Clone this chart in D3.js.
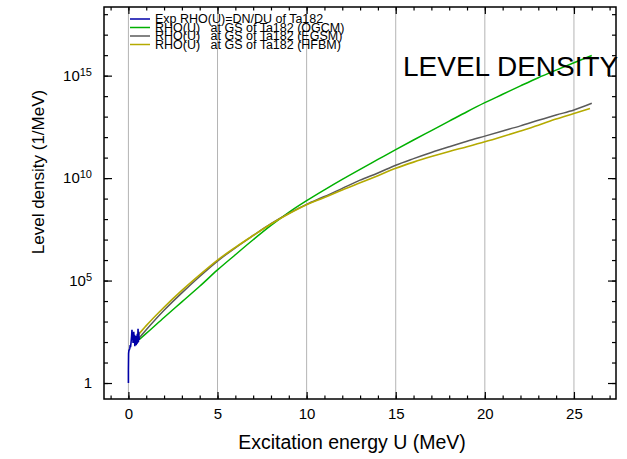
<!DOCTYPE html>
<html>
<head>
<meta charset="utf-8">
<script src="https://cdn.jsdelivr.net/npm/d3@7"></script>
<style>
  body { margin: 0; background: #fff; }
  svg text { font-family: "Liberation Sans", Arial, Helvetica, sans-serif; fill: #000; }
</style>
</head>
<body>
<div id="chart"></div>
<script>
// energies (MeV) for the model curves
var energies = [0.6, 1, 2, 3, 4, 5, 6, 7, 8, 9, 10, 11, 12, 13, 14, 15, 16, 17, 18, 19, 20, 21, 22, 23, 24, 25, 26];
// log10 of level density
var ogcmLog = [2.12, 2.42, 3.2, 3.96, 4.72, 5.52, 6.26, 6.99, 7.69, 8.33, 8.9, 9.43, 9.94, 10.43, 10.91, 11.39, 11.86, 12.32, 12.78, 13.24, 13.68, 14.09, 14.5, 14.9, 15.27, 15.63, 15.98];
var egsmLog = [2.2, 2.6, 3.55, 4.4, 5.2, 5.95, 6.6, 7.2, 7.78, 8.28, 8.72, 9.1, 9.5, 9.9, 10.25, 10.63, 10.95, 11.25, 11.53, 11.8, 12.05, 12.3, 12.55, 12.82, 13.08, 13.32, 13.65];
var hfbmEnergies = [0.5, 1, 2, 3, 4, 5, 6, 7, 8, 9, 10, 11, 12, 13, 14, 15, 16, 17, 18, 19, 20, 21, 22, 23, 24, 25, 25.9];
var hfbmLog = [2.3, 2.8, 3.7, 4.52, 5.28, 6.0, 6.62, 7.2, 7.76, 8.26, 8.7, 9.05, 9.42, 9.77, 10.12, 10.48, 10.78, 11.05, 11.3, 11.53, 11.77, 12.03, 12.3, 12.58, 12.88, 13.15, 13.4];
// experimental rho = dN/dU (noisy, low energy)
var expEnergies = [0.0, 0.0, 0.01, 0.03, 0.05, 0.08, 0.1, 0.12, 0.15, 0.18, 0.2, 0.22, 0.24, 0.26, 0.28, 0.3, 0.32, 0.34, 0.36, 0.38, 0.4, 0.42, 0.44, 0.46, 0.48, 0.5, 0.52, 0.54, 0.56, 0.58, 0.6, 0.62];
var expLog = [0.0, 0.6, 1.45, 1.6, 1.62, 1.7, 1.85, 1.75, 2.0, 2.3, 2.6, 2.1, 2.4, 1.95, 2.2, 2.5, 2.0, 2.35, 1.8, 2.2, 1.9, 2.3, 1.85, 2.25, 1.9, 2.4, 1.95, 2.65, 2.0, 2.5, 2.1, 2.2];

var xMajor = [0, 5, 10, 15, 20, 25];
var xMinor = d3.range(-1, 28);
var yMajorExp = [0, 5, 10, 15];
var yMinorExp = d3.range(0, 19);

var legendLabels = ["Exp RHO(U)=DN/DU of Ta182",
  "RHO(U)   at GS of Ta182 (OGCM)",
  "RHO(U)   at GS of Ta182 (EGSM)",
  "RHO(U)   at GS of Ta182 (HFBM)"];
var colors = ["#0000a8", "#00b000", "#5a5a5a", "#b4aa00"];

var W = 627, H = 459;
var L = 104, R = 616, T = 7, B = 399;

var svg = d3.select('#chart').append('svg')
  .attr('width', W).attr('height', H);

var x = d3.scaleLinear().domain([-1.37, 27.36]).range([L, R]);
var y = d3.scaleLog().domain([Math.pow(10, -0.78), Math.pow(10, 18.35)]).range([B, T]);

// vertical grid lines
svg.selectAll('.grid').data(xMajor).enter().append('line')
  .attr('x1', d => x(d)).attr('x2', d => x(d))
  .attr('y1', T).attr('y2', B)
  .style('stroke', '#b4b4b4').style('stroke-width', 1);

// curves
var line = d3.line()
  .x(d => x(d[0]))
  .y(d => y(Math.pow(10, d[1])))
  .curve(d3.curveMonotoneX);
var lineRaw = d3.line()
  .x(d => x(d[0]))
  .y(d => y(Math.pow(10, d[1])));

var series = [
  {data: d3.zip(energies, ogcmLog), color: colors[1], w: 1.5},
  {data: d3.zip(energies, egsmLog), color: colors[2], w: 1.5},
  {data: d3.zip(hfbmEnergies, hfbmLog), color: colors[3], w: 1.6}
];
series.forEach(function(s){
  svg.append('path')
    .datum(s.data)
    .attr('d', line)
    .attr('fill', 'none')
    .attr('stroke', s.color)
    .attr('stroke-width', s.w);
});
svg.append('path')
  .datum(d3.zip(expEnergies, expLog))
  .attr('d', lineRaw)
  .attr('fill', 'none')
  .attr('stroke', colors[0])
  .attr('stroke-width', 1.6);

// axes (ticks point inwards)
function styleAxis(g){
  g.select('.domain').remove();
  g.selectAll('line').style('stroke', '#000').style('stroke-width', 1.2);
}
svg.append('g').attr('transform', `translate(0,${B})`)
  .call(d3.axisBottom(x).tickValues(xMinor).tickSize(-3.5).tickFormat(''))
  .call(styleAxis);
svg.append('g').attr('transform', `translate(0,${B})`)
  .call(d3.axisBottom(x).tickValues(xMajor).tickSize(-7).tickPadding(9).tickFormat(d3.format('d')))
  .call(styleAxis)
  .selectAll('text').style('font-size', '15px');
svg.append('g').attr('transform', `translate(0,${T})`)
  .call(d3.axisTop(x).tickValues(xMinor).tickSize(-3.5).tickFormat(''))
  .call(styleAxis);
svg.append('g').attr('transform', `translate(0,${T})`)
  .call(d3.axisTop(x).tickValues(xMajor).tickSize(-7).tickFormat(''))
  .call(styleAxis);

var yMinor = yMinorExp.map(e => Math.pow(10, e));
var yMajor = yMajorExp.map(e => Math.pow(10, e));
svg.append('g').attr('transform', `translate(${L},0)`)
  .call(d3.axisLeft(y).tickValues(yMinor).tickSize(-4).tickFormat(''))
  .call(styleAxis);
var yAx = svg.append('g').attr('transform', `translate(${L},0)`)
  .call(d3.axisLeft(y).tickValues(yMajor).tickSize(-8).tickPadding(12).tickFormat(''))
  .call(styleAxis);
yAx.selectAll('.tick text').each(function(d){
  var t = d3.select(this).style('font-size', '15px');
  var e = Math.round(Math.log10(d));
  if (e === 0) { t.text('1'); return; }
  t.append('tspan').text('10');
  t.append('tspan').attr('dy', '-0.45em').style('font-size', '11px').text(e);
});
svg.append('g').attr('transform', `translate(${R},0)`)
  .call(d3.axisRight(y).tickValues(yMinor).tickSize(-4).tickFormat(''))
  .call(styleAxis);
svg.append('g').attr('transform', `translate(${R},0)`)
  .call(d3.axisRight(y).tickValues(yMajor).tickSize(-8).tickFormat(''))
  .call(styleAxis);

// frame
svg.append('rect')
  .attr('x', L).attr('y', T).attr('width', R - L).attr('height', B - T)
  .style('fill', 'none').style('stroke', '#000').style('stroke-width', 1.5);

// axis titles
svg.append('text')
  .attr('x', 352).attr('y', 449)
  .style('text-anchor', 'middle').style('font-size', '19.5px')
  .text('Excitation energy U (MeV)');
svg.append('text')
  .attr('transform', 'translate(44,172) rotate(-90)')
  .style('text-anchor', 'middle').style('font-size', '17px')
  .text('Level density (1/MeV)');

// big caption
svg.append('text')
  .attr('x', 403).attr('y', 76)
  .style('font-size', '28px')
  .text('LEVEL DENSITY');

// legend
var leg = svg.append('g').attr('class', 'legend');
legendLabels.forEach(function(lab, i){
  var cy = 19 + i * 8.5;
  leg.append('line')
    .attr('x1', 130).attr('x2', 150).attr('y1', cy).attr('y2', cy)
    .style('stroke', colors[i]).style('stroke-width', 1.5);
  leg.append('text')
    .attr('x', 155).attr('y', cy + 4.3)
    .style('font-size', '12.5px')
    .style('white-space', 'pre')
    .text(lab);
});
</script>
</body>
</html>
